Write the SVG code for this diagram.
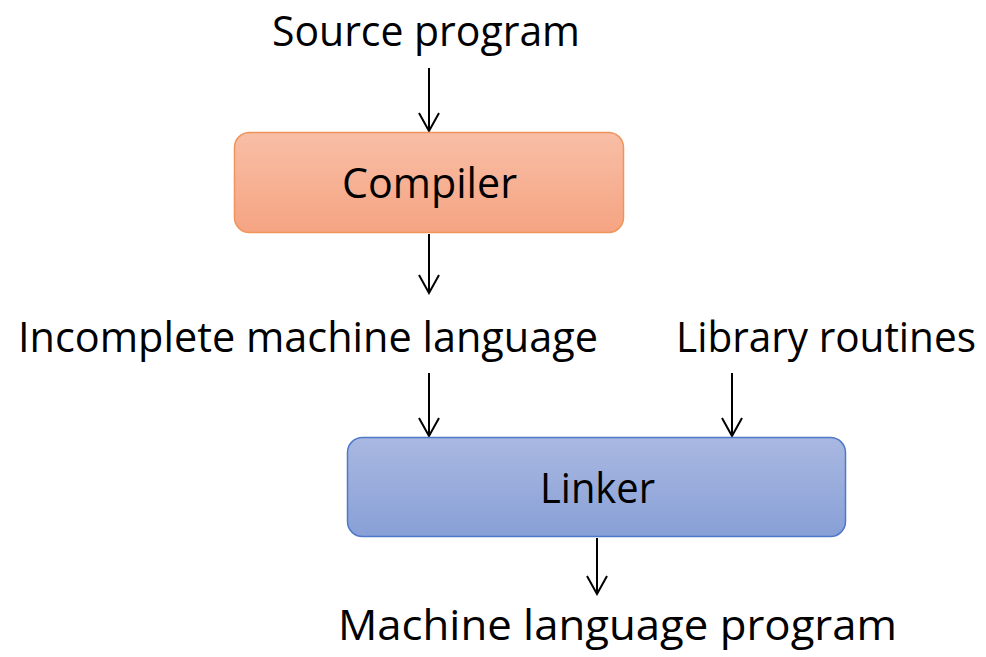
<svg xmlns="http://www.w3.org/2000/svg" width="986" height="657" viewBox="0 0 986 657">
  <defs>
    <linearGradient id="gradOrange" x1="0" y1="0" x2="0" y2="1">
      <stop offset="0" stop-color="#f8bea6"/>
      <stop offset="1" stop-color="#f5a482"/>
    </linearGradient>
    <linearGradient id="gradBlue" x1="0" y1="0" x2="0" y2="1">
      <stop offset="0" stop-color="#a9b8e1"/>
      <stop offset="1" stop-color="#88a0d7"/>
    </linearGradient>
    <!-- open V arrowhead, tip at the end of the line -->
    <marker id="arrow" viewBox="0 0 24 24" refX="22" refY="12" markerWidth="24" markerHeight="24" markerUnits="userSpaceOnUse" orient="auto">
      <path d="M4 2 L22 12 L4 22" fill="none" stroke="#000" stroke-width="2"/>
    </marker>
  </defs>
  <style>
    .label { font-family: "Open Sans", "Liberation Sans", sans-serif; font-size: 42px; fill: #000; }
    .conn { stroke: #000; stroke-width: 2; fill: none; marker-end: url(#arrow); }
  </style>
  <rect width="986" height="657" fill="#fff"/>

  <g id="connectors">
    <line class="conn" x1="429" y1="68" x2="429" y2="131"/>
    <line class="conn" x1="429" y1="234" x2="429" y2="293"/>
    <line class="conn" x1="429" y1="373" x2="429" y2="436"/>
    <line class="conn" x1="732" y1="373" x2="732" y2="436"/>
    <line class="conn" x1="597" y1="538" x2="597" y2="594"/>
  </g>

  <g id="source-program">
    <text class="label" x="272" y="46" textLength="308" lengthAdjust="spacingAndGlyphs">Source program</text>
  </g>

  <g id="compiler">
    <rect x="234.5" y="132.5" width="389" height="100" rx="15" fill="url(#gradOrange)" stroke="#f0945c" stroke-width="1.5"/>
    <text class="label" x="342" y="198" textLength="175" lengthAdjust="spacingAndGlyphs">Compiler</text>
  </g>

  <g id="incomplete-machine-language">
    <text class="label" x="18" y="352" textLength="580" lengthAdjust="spacingAndGlyphs">Incomplete machine language</text>
  </g>

  <g id="library-routines">
    <text class="label" x="676" y="352" textLength="300" lengthAdjust="spacingAndGlyphs">Library routines</text>
  </g>

  <g id="linker">
    <rect x="347.5" y="437.5" width="498" height="99" rx="15" fill="url(#gradBlue)" stroke="#4f79c8" stroke-width="1.5"/>
    <text class="label" x="540" y="503" textLength="115" lengthAdjust="spacingAndGlyphs">Linker</text>
  </g>

  <g id="machine-language-program">
    <text class="label" x="338" y="640" textLength="559" lengthAdjust="spacingAndGlyphs">Machine language program</text>
  </g>
</svg>
